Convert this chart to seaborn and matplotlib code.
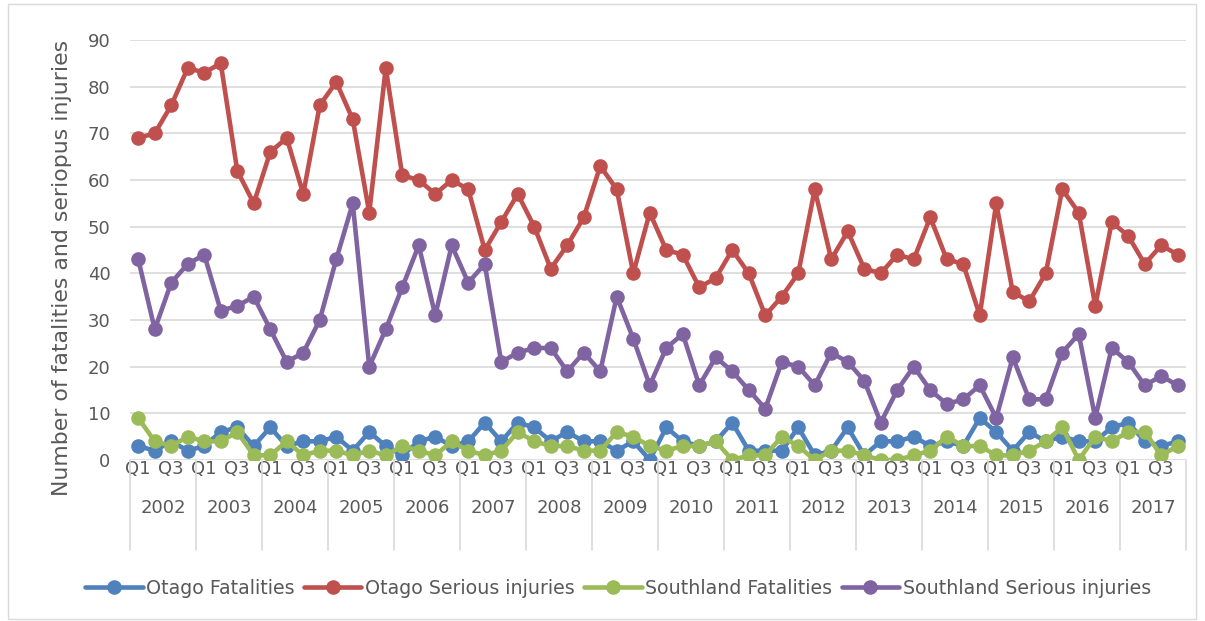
import numpy as np
import pandas as pd
import seaborn as sns
import matplotlib.pyplot as plt
from matplotlib.lines import Line2D
from matplotlib.patches import Rectangle

### Data (quarterly, 2002 Q1 - 2017 Q4) ###
years = [str(y) for y in range(2002, 2018)]
quarters = ["Q1", "Q2", "Q3", "Q4"]

otago_fatal = [3, 2, 4, 2, 3, 6, 7, 3, 7, 3, 4, 4, 5, 2, 6, 3,
               1, 4, 5, 3, 4, 8, 4, 8, 7, 4, 6, 4, 4, 2, 4, 0,
               7, 4, 3, 4, 8, 2, 2, 2, 7, 1, 2, 7, 1, 4, 4, 5,
               3, 4, 3, 9, 6, 2, 6, 4, 5, 4, 4, 7, 8, 4, 3, 4]
otago_serious = [69, 70, 76, 84, 83, 85, 62, 55, 66, 69, 57, 76, 81, 73, 53, 84,
                 61, 60, 57, 60, 58, 45, 51, 57, 50, 41, 46, 52, 63, 58, 40, 53,
                 45, 44, 37, 39, 45, 40, 31, 35, 40, 58, 43, 49, 41, 40, 44, 43,
                 52, 43, 42, 31, 55, 36, 34, 40, 58, 53, 33, 51, 48, 42, 46, 44]
southland_fatal = [9, 4, 3, 5, 4, 4, 6, 1, 1, 4, 1, 2, 2, 1, 2, 1,
                   3, 2, 1, 4, 2, 1, 2, 6, 4, 3, 3, 2, 2, 6, 5, 3,
                   2, 3, 3, 4, 0, 1, 1, 5, 3, 0, 2, 2, 1, 0, 0, 1,
                   2, 5, 3, 3, 1, 1, 2, 4, 7, 0, 5, 4, 6, 6, 1, 3]
southland_serious = [43, 28, 38, 42, 44, 32, 33, 35, 28, 21, 23, 30, 43, 55, 20, 28,
                     37, 46, 31, 46, 38, 42, 21, 23, 24, 24, 19, 23, 19, 35, 26, 16,
                     24, 27, 16, 22, 19, 15, 11, 21, 20, 16, 23, 21, 17, 8, 15, 20,
                     15, 12, 13, 16, 9, 22, 13, 13, 23, 27, 9, 24, 21, 16, 18, 16]

series_names = ["Otago Fatalities", "Otago Serious injuries",
                "Southland Fatalities", "Southland Serious injuries"]
colors = ["#4f81bd", "#c0504d", "#9bbb59", "#8064a2"]

### Long-form table for seaborn ###
n = len(years) * len(quarters)
idx = np.arange(n)
df = pd.concat([
    pd.DataFrame({"idx": idx, "value": vals, "series": name})
    for name, vals in zip(series_names, [otago_fatal, otago_serious,
                                         southland_fatal, southland_serious])
])

sns.set_theme(style="white")
plt.rcParams["font.family"] = ["DejaVu Sans"]

fig = plt.figure(figsize=(12.05, 6.21), dpi=100)
ax = fig.add_axes([130 / 1205, 1 - 460 / 621, 1056 / 1205, 420 / 621])

sns.lineplot(data=df, x="idx", y="value", hue="series", hue_order=series_names,
             palette=colors, marker="o", markersize=10.5, markeredgewidth=0,
             linewidth=3.3, legend=False, ax=ax)

ax.set_xlim(-0.5, n - 0.5)
ax.set_ylim(0, 90)
ax.set_yticks(range(0, 91, 10))
ax.yaxis.grid(True, color="#d9d9d9", linewidth=1.2)
ax.set_axisbelow(True)
for s in ax.spines.values():
    s.set_visible(False)
ax.tick_params(axis="both", length=0, labelsize=13, colors="#595959")
ax.tick_params(axis="y", pad=14)

### Category axis: quarter labels + year labels ###
q_pos = [i for i in idx if i % 2 == 0]
ax.set_xticks(q_pos)
ax.set_xticklabels([quarters[i % 4] for i in q_pos])
ax.tick_params(axis="x", pad=0)
ax.set_xlabel("")
ax.set_ylabel("")

trans = ax.get_xaxis_transform()
for k in range(len(years) + 1):
    ax.plot([k * 4 - 0.5] * 2, [0, -0.215], transform=trans, color="#d9d9d9",
            linewidth=1.2, clip_on=False)
for k, yr in enumerate(years):
    ax.text(k * 4 + 1.5, -0.115, yr, transform=trans, ha="center", va="center",
            fontsize=13, color="#595959")

fig.text(62 / 1205, 1 - 268 / 621, "Number of fatalities and seriopus injuries",
         rotation=90, ha="center", va="center", fontsize=15.8, color="#595959")

handles = [Line2D([], [], color=c, marker="o", markersize=10.5, linewidth=3.3,
                  markeredgewidth=0) for c in colors]
fig.legend(handles, series_names, loc="center", ncol=4, frameon=False,
           bbox_to_anchor=(0.513, 1 - 588 / 621), fontsize=13.7,
           handlelength=3.0, columnspacing=0.5, handletextpad=0.2,
           labelcolor="#595959")

fig.patches.append(Rectangle((8 / 1205, 0.003), 1188 / 1205, 0.99,
                             transform=fig.transFigure, fill=False,
                             edgecolor="#d9d9d9", linewidth=1))

fig.savefig("out.png", dpi=100)
